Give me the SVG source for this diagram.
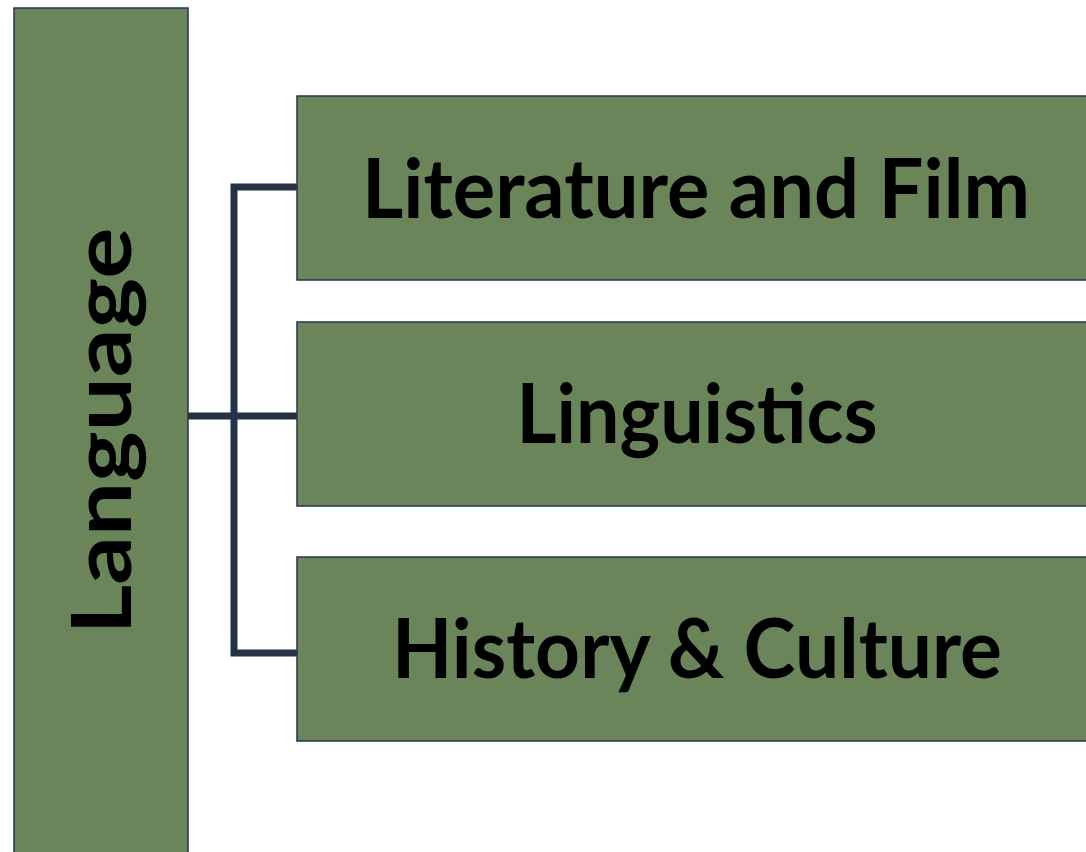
<svg xmlns="http://www.w3.org/2000/svg" width="1086" height="852" viewBox="0 0 1086 852">
<style>
.box{fill:#6a8559;stroke:#26334a;stroke-width:1.5}
.lbl{font-family:Lato,"Open Sans","Liberation Sans",sans-serif;font-weight:bold;font-size:82px;fill:#000}
.conn{stroke:#253246;stroke-width:7;fill:none}
</style>
<rect width="1086" height="852" fill="#fff"/>
<g id="connectors">
<path class="conn" d="M297,187 H234 V653 H297"/>
<path class="conn" d="M188,416 H297"/>
</g>
<g id="language">
<rect class="box" x="14" y="8" width="174" height="860"/>
<text class="lbl" transform="translate(131,431) rotate(-90)" text-anchor="middle" textLength="407" lengthAdjust="spacingAndGlyphs">Language</text>
</g>
<g id="literature">
<rect class="box" x="297" y="96" width="800" height="184"/>
<text class="lbl" x="696" y="218" text-anchor="middle" textLength="668" lengthAdjust="spacingAndGlyphs">Literature and Film</text>
</g>
<g id="linguistics">
<rect class="box" x="297" y="322" width="800" height="184"/>
<text class="lbl" x="697" y="443" text-anchor="middle" textLength="361" lengthAdjust="spacingAndGlyphs">Linguistics</text>
</g>
<g id="history">
<rect class="box" x="297" y="557" width="800" height="184"/>
<text class="lbl" x="697" y="678" text-anchor="middle" textLength="610" lengthAdjust="spacingAndGlyphs">History &amp; Culture</text>
</g>
</svg>
